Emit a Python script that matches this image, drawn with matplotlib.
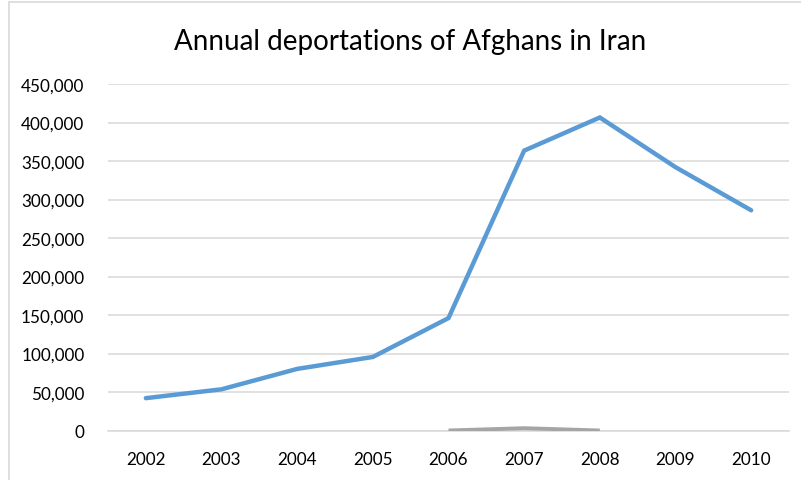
import matplotlib
matplotlib.use("Agg")
import matplotlib.pyplot as plt
import matplotlib.patches as patches
import numpy as np

years = ["2002", "2003", "2004", "2005", "2006", "2007", "2008", "2009", "2010"]
deportations = [42000, 53500, 80000, 95500, 146000, 363500, 406500, 342000, 286000]
other_series = [np.nan, np.nan, np.nan, np.nan, 0, 3000, 0, np.nan, np.nan]
y_ticks = [0, 50000, 100000, 150000, 200000, 250000, 300000, 350000, 400000, 450000]

plt.rcParams['font.family'] = ['Lato', 'DejaVu Sans']

W, H = 801, 481
fig = plt.figure(figsize=(W / 100, H / 100), dpi=100)
fig.patch.set_facecolor("white")

# chart border (partially cropped like the reference)
fig.add_artist(patches.Rectangle((9 / W, -0.1), 1.2, 1 - 2.5 / H + 0.1,
                                 transform=fig.transFigure, fill=False,
                                 edgecolor="#d9d9d9", linewidth=1.2))

ax = fig.add_axes([108 / W, 1 - 431.5 / H, (789 - 108) / W, (431.5 - 85) / H])
x = np.arange(len(years))
ax.plot(x, other_series, color="#a5a5a5", linewidth=2.8, solid_capstyle="butt", zorder=3)
ax.plot(x, deportations, color="#5b9bd5", linewidth=3.2, solid_capstyle="round",
        solid_joinstyle="miter", zorder=4)

ax.set_xlim(-0.5, len(years) - 0.5)
ax.set_ylim(0, 450000)
ax.set_yticks(y_ticks)
ax.set_yticklabels([f"{v:,}" for v in y_ticks])
ax.set_xticks(x)
ax.set_xticklabels(years)
ax.grid(axis="y", color="#d9d9d9", linewidth=1.1)
ax.set_axisbelow(True)
for s in ["top", "right", "left"]:
    ax.spines[s].set_visible(False)
ax.spines["bottom"].set_color("#d9d9d9")
ax.spines["bottom"].set_linewidth(1.1)
ax.tick_params(axis="both", length=0, labelsize=12.3, colors="#000000")
ax.tick_params(axis="y", pad=17)
ax.tick_params(axis="x", pad=15)

fig.text(410 / W, 1 - 42 / H, "Annual deportations of Afghans in Iran",
         ha="center", va="center", fontsize=20, color="#000000")

fig.savefig("out.png", dpi=100, facecolor="white")
